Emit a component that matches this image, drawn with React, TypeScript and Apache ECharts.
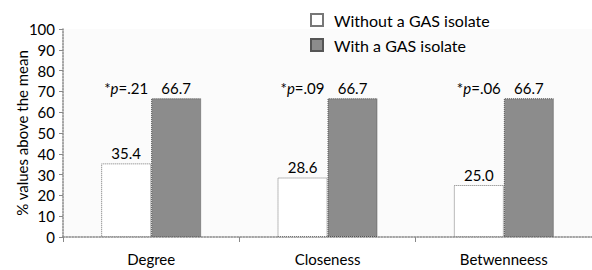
import React, { useEffect, useRef } from "react";
import * as echarts from "echarts";

const categories = ["Degree", "Closeness", "Betwenneess"];
const withoutGas = [35.4, 28.6, 25.0];
const withGas = [66.7, 66.7, 66.7];
const pValues = [".21", ".09", ".06"];
const seriesNames = ["Without a GAS isolate", "With a GAS isolate"];
const yTicks = { min: 0, max: 100, interval: 10 };

const FONT = "Lato, 'DejaVu Sans', sans-serif";

export default function App() {
  const ref = useRef<HTMLDivElement>(null);
  useEffect(() => {
    if (!ref.current) return;
    const chart = echarts.init(ref.current, undefined, { renderer: "svg" });
    chart.setOption({
      animation: false,
      textStyle: { fontFamily: FONT, color: "#000" },
      grid: {
        left: 63,
        right: 0,
        top: 29,
        bottom: 33,
        show: true,
        backgroundColor: "#fbfbfb",
        borderWidth: 0,
        containLabel: false,
        outerBoundsMode: "none",
      },
      legend: {
        orient: "vertical",
        left: 305,
        top: 7,
        itemWidth: 12,
        itemHeight: 12,
        itemGap: 9,
        icon: "rect",
        textStyle: { fontFamily: FONT, fontSize: 16, color: "#000", padding: [0, 0, 0, 6] },
        data: seriesNames,
      },
      xAxis: {
        type: "category",
        data: categories,
        axisLine: { lineStyle: { color: "#888", type: "dotted", width: 1.5 } },
        axisTick: { show: true, length: 5, lineStyle: { color: "#888" } },
        axisLabel: { fontFamily: FONT, fontSize: 15, color: "#000", margin: 14 },
      },
      yAxis: {
        type: "value",
        min: yTicks.min,
        max: yTicks.max,
        interval: yTicks.interval,
        name: "% values above the mean",
        nameLocation: "middle",
        nameGap: 34,
        nameMoveOverlap: false,
        nameTextStyle: { fontFamily: FONT, fontSize: 15, color: "#000" },
        axisLine: { show: true, lineStyle: { color: "#888", type: "dotted", width: 1.5 } },
        axisTick: { show: true, length: 4, lineStyle: { color: "#888" } },
        axisLabel: { fontFamily: FONT, fontSize: 15, color: "#000", margin: 8 },
        splitLine: { show: false },
      },
      series: [
        {
          name: seriesNames[0],
          type: "bar",
          data: withoutGas,
          barWidth: 50,
          barGap: "0%",
          itemStyle: { color: "#ffffff", borderColor: "#777", borderWidth: 1, borderType: "dotted" },
          label: {
            show: true,
            position: "top",
            distance: 3,
            fontFamily: FONT,
            fontSize: 15,
            color: "#000",
            formatter: (p: any) => p.value.toFixed(1),
          },
        },
        {
          name: seriesNames[1],
          type: "bar",
          data: withGas,
          barWidth: 50,
          itemStyle: { color: "#8c8c8c", borderColor: "#555", borderWidth: 1, borderType: "dotted" },
          label: {
            show: true,
            position: "top",
            distance: 3,
            fontFamily: FONT,
            fontSize: 15,
            color: "#000",
            formatter: (p: any) => p.value.toFixed(1),
          },
        },
        {
          name: "p",
          type: "scatter",
          data: withGas,
          symbolSize: 0,
          silent: true,
          itemStyle: { opacity: 1 },
          label: {
            show: true,
            position: "top",
            distance: 3,
            offset: [-25, 0],
            fontFamily: FONT,
            fontSize: 15,
            color: "#000",
            opacity: 1,
            formatter: (p: any) => `*{i|p}=${pValues[p.dataIndex]}`,
            rich: {
              i: { fontFamily: FONT, fontSize: 15, fontStyle: "italic", color: "#000" },
            },
          },
        },
      ],
    });
    return () => chart.dispose();
  }, []);
  return (
    <div
      ref={ref}
      style={{ position: "absolute", left: 0, top: 0, width: 592, height: 270 }}
    />
  );
}
